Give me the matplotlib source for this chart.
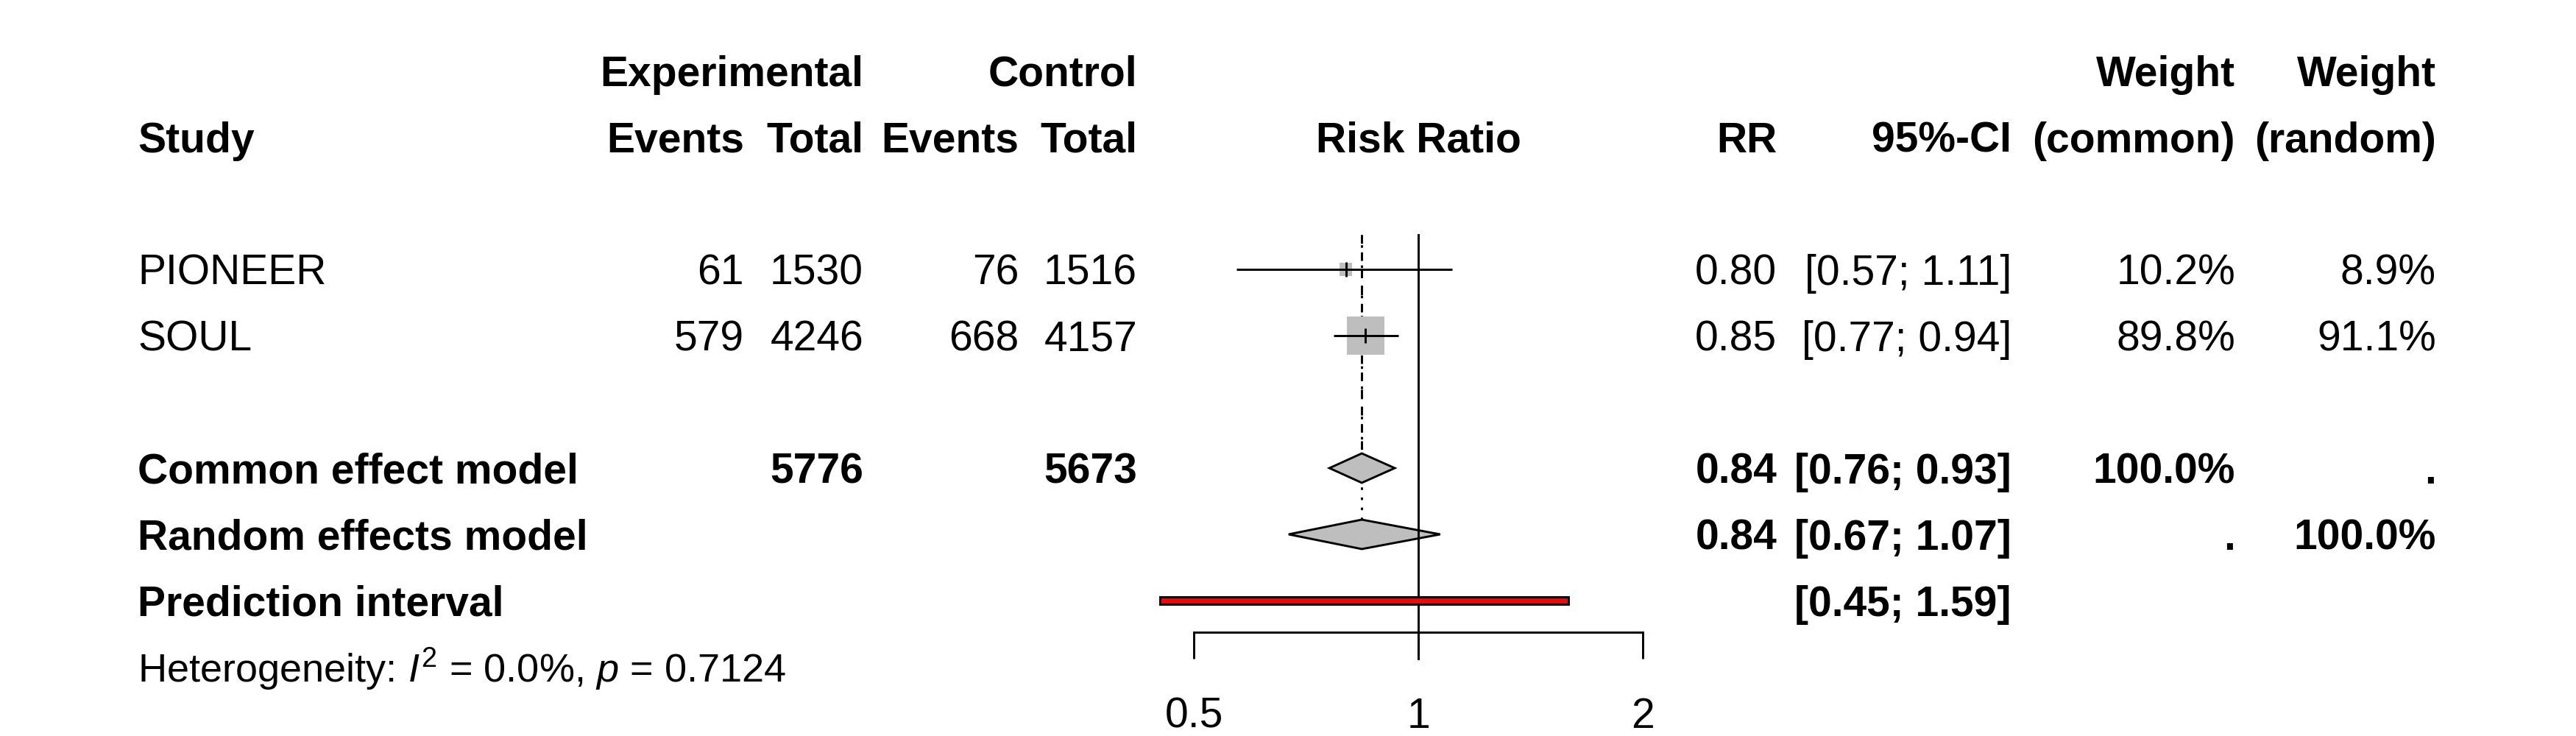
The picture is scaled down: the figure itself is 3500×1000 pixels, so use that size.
import numpy as np
import matplotlib
matplotlib.use("Agg")
import matplotlib.pyplot as plt
from matplotlib.ticker import NullLocator

plt.rcParams["font.family"] = ["Liberation Sans", "DejaVu Sans"]
plt.rcParams["mathtext.fontset"] = "custom"
plt.rcParams["mathtext.rm"] = "Liberation Sans"
plt.rcParams["mathtext.it"] = "Liberation Sans:italic"

# Datos del meta-análisis
studies = ["PIONEER", "SOUL"]
exp_events = [61, 579]
exp_total = [1530, 4246]
ctrl_events = [76, 668]
ctrl_total = [1516, 4157]
rr = [0.80, 0.85]
ci_lo = [0.57, 0.77]
ci_hi = [1.11, 0.94]
w_common = [10.2, 89.8]
w_random = [8.9, 91.1]

common = [0.84, 0.76, 0.93]
random_eff = [0.84, 0.67, 1.07]
pred_int = [0.45, 1.59]
i2 = 0.0
p_het = 0.7124

x_ticks = [0.5, 1, 2]

# Filas (1 = primera cabecera)
row_h1, row_h2 = 1, 2
study_rows = np.array([4, 5])
row_common, row_random, row_pi, row_het = 7, 8, 9, 10
row_axis = 9.478

FS = 41
BASE = 0.233       # desplazamiento a la línea base del texto
GRAY = "#BEBEBE"
LW = 2.1

# Columnas (px, alineadas a la derecha salvo Study)
X_STUDY = 187
X_EXP_EV, X_EXP_TOT = 1011, 1173
X_CTL_EV, X_CTL_TOT = 1384, 1545
X_RR, X_CI = 2414, 2733
X_WC, X_WR = 3037, 3310

ylim = (1 + 904 / 90, 1 - 96 / 90)

fig = plt.figure(figsize=(35, 10), dpi=100)
ax_t = fig.add_axes([0, 0, 1, 1])
ax_t.set_xlim(0, 3500)
ax_t.set_ylim(*ylim)
ax_t.axis("off")

ax = fig.add_axes([1561 / 3500, 0, 732 / 3500, 1])
ax.set_xscale("log", base=2)
ax.set_xlim(2 ** -1.2, 2 ** 1.2)
ax.set_ylim(*ylim)
ax.patch.set_alpha(0)


def txt(x, row, s, bold=False, ha="right", fs=FS):
    ax_t.text(x, row + BASE, s, ha=ha, va="baseline", fontsize=fs,
              fontweight="bold" if bold else "normal")


# Cabeceras
txt(X_EXP_TOT, row_h1, "Experimental", True)
txt(X_CTL_TOT, row_h1, "Control", True)
txt(X_WC, row_h1, "Weight", True)
txt(X_WR, row_h1, "Weight", True)
txt(X_STUDY, row_h2, "Study", True, ha="left")
txt(X_EXP_EV, row_h2, "Events", True)
txt(X_EXP_TOT, row_h2, "Total", True)
txt(X_CTL_EV, row_h2, "Events", True)
txt(X_CTL_TOT, row_h2, "Total", True)
ax.text(1, row_h2 + BASE, "Risk Ratio", ha="center", va="baseline",
        fontsize=FS, fontweight="bold")
txt(X_RR, row_h2, "RR", True)
txt(X_CI, row_h2, "95%-CI", True)
txt(X_WC, row_h2, "(common)", True)
txt(X_WR, row_h2, "(random)", True)

# Estudios
for i, r in enumerate(study_rows):
    txt(X_STUDY, r, studies[i], ha="left")
    txt(X_EXP_EV, r, str(exp_events[i]))
    txt(X_EXP_TOT, r, str(exp_total[i]))
    txt(X_CTL_EV, r, str(ctrl_events[i]))
    txt(X_CTL_TOT, r, str(ctrl_total[i]))
    txt(X_RR, r, f"{rr[i]:.2f}")
    txt(X_CI, r, f"[{ci_lo[i]:.2f}; {ci_hi[i]:.2f}]")
    txt(X_WC, r, f"{w_common[i]:.1f}%")
    txt(X_WR, r, f"{w_random[i]:.1f}%")

# Modelos combinados
txt(X_STUDY, row_common, "Common effect model", True, ha="left")
txt(X_EXP_TOT, row_common, str(sum(exp_total)), True)
txt(X_CTL_TOT, row_common, str(sum(ctrl_total)), True)
txt(X_RR, row_common, f"{common[0]:.2f}", True)
txt(X_CI, row_common, f"[{common[1]:.2f}; {common[2]:.2f}]", True)
txt(X_WC, row_common, "100.0%", True)
txt(X_WR, row_common, ".", True)

txt(X_STUDY, row_random, "Random effects model", True, ha="left")
txt(X_RR, row_random, f"{random_eff[0]:.2f}", True)
txt(X_CI, row_random, f"[{random_eff[1]:.2f}; {random_eff[2]:.2f}]", True)
txt(X_WC, row_random, ".", True)
txt(X_WR, row_random, "100.0%", True)

txt(X_STUDY, row_pi, "Prediction interval", True, ha="left")
txt(X_CI, row_pi, f"[{pred_int[0]:.2f}; {pred_int[1]:.2f}]", True)

txt(X_STUDY, row_het,
    f"Heterogeneity: $I^2$ = {i2:.1f}%, $p$ = {p_het:.4f}", ha="left", fs=39)

# Gráfico forest
top = study_rows[0] - 0.52
dh = 0.222
ax.plot([common[0]] * 2, [top, row_common - dh], color="black", lw=LW,
        dashes=(4, 4), zorder=1)
ax.plot([random_eff[0]] * 2, [top, row_random - dh], color="black", lw=LW,
        dashes=(1.2, 3.5), zorder=1)

for est, lo, hi, r in [(common[0], common[1], common[2], row_common),
                       (random_eff[0], random_eff[1], random_eff[2], row_random)]:
    ax.fill([lo, est, hi, est], [r, r - dh, r, r + dh], facecolor=GRAY,
            edgecolor="black", lw=LW, zorder=2)

ax.plot([1, 1], [top, row_axis + 0.4], color="black", lw=LW, zorder=3)

side = 3.9 * np.sqrt(np.array(w_common))
ax.scatter(rr, study_rows, s=side ** 2, marker="s", color=GRAY,
           linewidths=0, zorder=3.5)
ax.hlines(study_rows, ci_lo, ci_hi, color="black", lw=LW, zorder=4)
ax.vlines(rr, study_rows - 0.11, study_rows + 0.11, color="black", lw=LW,
          zorder=4)

ph = 0.055
ax.fill([pred_int[0], pred_int[1], pred_int[1], pred_int[0]],
        [row_pi - ph, row_pi - ph, row_pi + ph, row_pi + ph],
        facecolor="red", edgecolor="black", lw=LW, zorder=5)

# Eje x
for s in ["top", "left", "right"]:
    ax.spines[s].set_visible(False)
ax.spines["bottom"].set_position(("data", row_axis))
ax.spines["bottom"].set_bounds(x_ticks[0], x_ticks[-1])
ax.spines["bottom"].set_linewidth(LW)
ax.set_xticks(x_ticks)
ax.set_xticklabels([f"{t:g}" for t in x_ticks])
ax.xaxis.set_minor_locator(NullLocator())
ax.tick_params(axis="x", direction="out", length=26, width=LW, pad=37,
               labelsize=FS)
ax.set_yticks([])

fig.savefig("out.png", dpi=100)
